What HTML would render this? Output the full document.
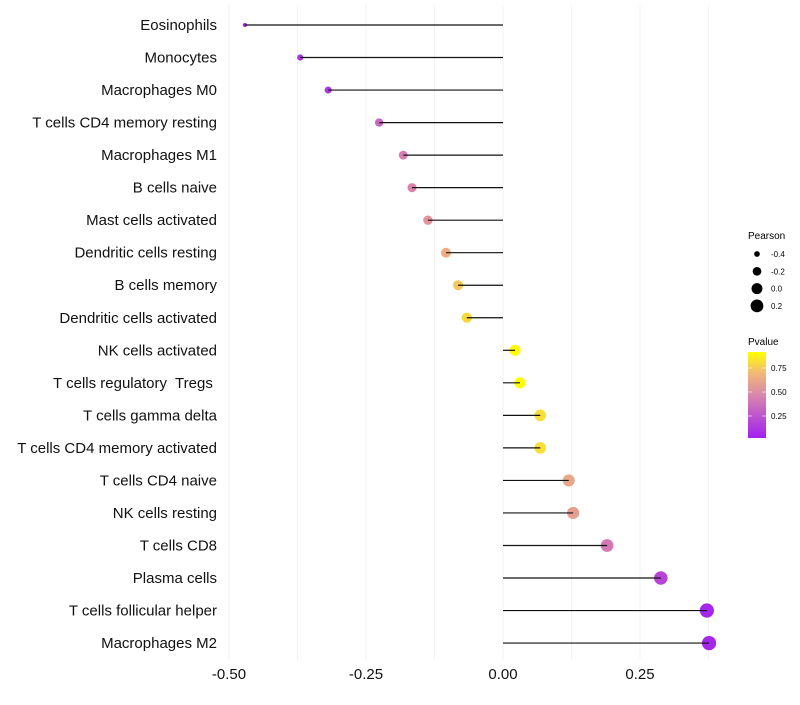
<!DOCTYPE html>
<html><head><meta charset="utf-8"><style>
body{margin:0;background:#fff;font-family:"Liberation Sans",sans-serif;}
text{white-space:pre;}
</style></head><body>
<svg id="chart" width="800" height="700" xmlns="http://www.w3.org/2000/svg" font-family="Liberation Sans, sans-serif">
<g id="grid"></g>
<g id="dots"></g>
<g id="marks"></g>
<g id="ylab"></g>
<g id="xlab"></g>
<g id="legend">
<defs><linearGradient id="pg" x1="0" y1="1" x2="0" y2="0">
<stop offset="0" stop-color="#a020f0"/><stop offset="0.48" stop-color="#d782b0"/><stop offset="0.75" stop-color="#f0b878"/><stop offset="1" stop-color="#ffff00"/></linearGradient></defs>
<text x="748" y="239" font-size="10">Pearson</text>
<text x="748" y="345" font-size="10">Pvalue</text>
<rect x="748" y="352" width="18" height="86" fill="url(#pg)"/>
</g>
</svg>
<script>
const categories=["Eosinophils","Monocytes","Macrophages M0","T cells CD4 memory resting","Macrophages M1","B cells naive","Mast cells activated","Dendritic cells resting","B cells memory","Dendritic cells activated","NK cells activated","T cells regulatory  Tregs ","T cells gamma delta","T cells CD4 memory activated","T cells CD4 naive","NK cells resting","T cells CD8","Plasma cells","T cells follicular helper","Macrophages M2"];
const pearson=[-0.471,-0.370,-0.319,-0.226,-0.182,-0.166,-0.137,-0.104,-0.082,-0.066,0.022,0.031,0.068,0.068,0.120,0.128,0.190,0.288,0.372,0.376];
const pvalues=[0.05,0.10,0.12,0.32,0.42,0.45,0.52,0.65,0.75,0.80,0.95,0.95,0.82,0.82,0.62,0.58,0.40,0.18,0.05,0.05];
const xTicks=[-0.5,-0.25,0,0.25];
const xTickLabels=["-0.50","-0.25","0.00","0.25"];
const sizeLegend=[-0.4,-0.2,0.0,0.2];
const pTicks=[0.25,0.5,0.75];
const NS="http://www.w3.org/2000/svg";
const X=v=>503+v*548;
const Y=i=>25+i*32.53;
const R=p=>Math.max(2,Math.sqrt(Math.max(0,30+55*p)));
const stops=[[0.02,[160,32,240]],[0.45,[218,132,172]],[0.7,[240,184,120]],[0.92,[255,255,0]]];
function col(p){if(p<=stops[0][0])return"rgb("+stops[0][1]+")";for(let i=1;i<stops.length;i++){if(p<=stops[i][0]){const a=stops[i-1],b=stops[i],t=(p-a[0])/(b[0]-a[0]);return"rgb("+a[1].map((c,k)=>Math.round(c+(b[1][k]-c)*t)).join(",")+")";}}return"rgb(255,255,0)";}
function mk(t,a,p){const e=document.createElementNS(NS,t);for(const k in a)e.setAttribute(k,a[k]);p.appendChild(e);return e;}
const grid=document.getElementById('grid');
for(let v=-0.5;v<=0.4;v+=0.125){const l=mk('line',{x1:X(v),x2:X(v),y1:5,y2:660,stroke:'#f0f0f0','stroke-width':0.8},grid);

}
const marks=document.getElementById('marks'),dots=document.getElementById('dots'),yl=document.getElementById('ylab');
categories.forEach((c,i)=>{
const d=mk('circle',{cx:X(pearson[i]),cy:Y(i),r:R(pearson[i]),fill:col(pvalues[i])},dots);


const s=mk('line',{x1:X(0),x2:X(pearson[i]),y1:Y(i),y2:Y(i),stroke:'#111','stroke-width':1.2},marks);


const t=mk('text',{x:217,y:Y(i)+5,'text-anchor':'end','font-size':15,fill:'#111'},yl);t.textContent=c;


});
const xl=document.getElementById('xlab');
xTicks.forEach((v,i)=>{const t=mk('text',{x:X(v),y:679,'text-anchor':'middle','font-size':15,fill:'#111'},xl);t.textContent=xTickLabels[i];

});
const lg=document.getElementById('legend');
sizeLegend.forEach((v,i)=>{const y=254+i*17.3;
const c=mk('circle',{cx:757,cy:y,r:R(v),fill:'#000'},lg);


const t=mk('text',{x:771,y:y+3,'font-size':8},lg);t.textContent=v.toFixed(1);

});
pTicks.forEach(p=>{const y=392-(p-0.5)*96;
mk('line',{x1:748,x2:752,y1:y,y2:y,stroke:'#fff','stroke-width':0.6},lg);
mk('line',{x1:762,x2:766,y1:y,y2:y,stroke:'#fff','stroke-width':0.6},lg);
const t=mk('text',{x:771,y:y+3,'font-size':8},lg);t.textContent=p.toFixed(2);

});
</script>
</body></html>
